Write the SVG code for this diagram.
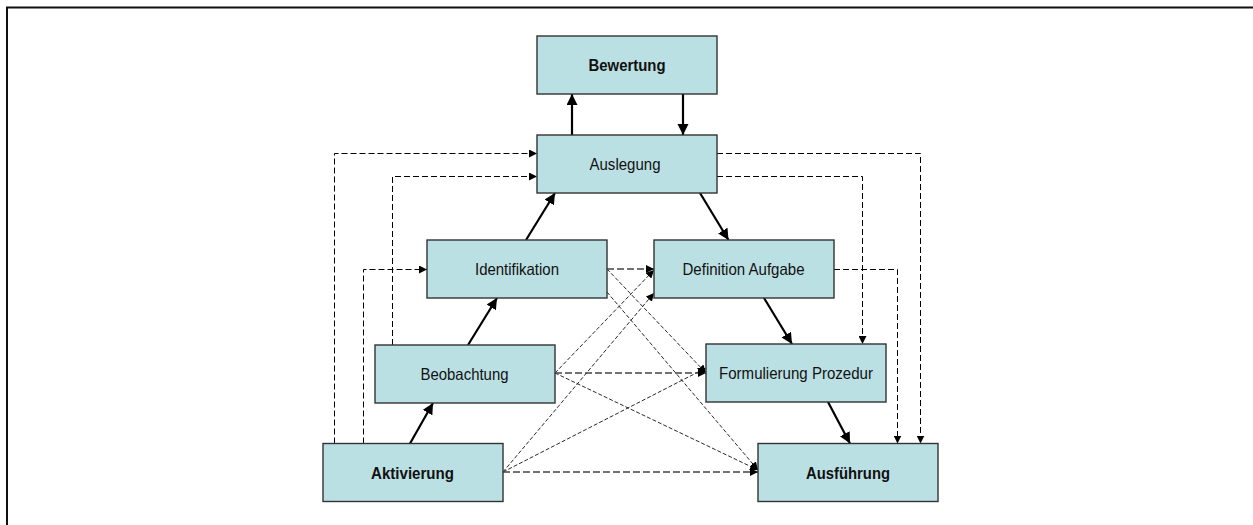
<svg xmlns="http://www.w3.org/2000/svg" width="1253" height="525" viewBox="0 0 1253 525">
  <style>
    .box { fill: #bbe0e3; stroke: #333; stroke-width: 1.4; }
    .lbl { font-family: "Liberation Sans", Arial, sans-serif; font-size: 16.5px; fill: #111; text-anchor: middle; }
    .bold { font-weight: bold; }
    .solid { fill: none; stroke: #000; stroke-width: 2.2; marker-end: url(#headBig); }
    .diag { fill: none; stroke: #111; stroke-width: 0.9; stroke-dasharray: 4 2; marker-end: url(#headSmall); }
    .horiz { fill: none; stroke: #444; stroke-width: 1.5; stroke-dasharray: 7 3; marker-end: url(#headSmall); }
    .loop { fill: none; stroke: #000; stroke-width: 1; stroke-dasharray: 6 3; marker-end: url(#headSmall); }
  </style>
  <defs>
    <marker id="headBig" markerUnits="userSpaceOnUse" markerWidth="12" markerHeight="12" refX="11" refY="5.5" orient="auto">
      <path d="M0,0 L11,5.5 L0,11 Z" fill="#000"/>
    </marker>
    <marker id="headSmall" markerUnits="userSpaceOnUse" markerWidth="9" markerHeight="8" refX="8" refY="4" orient="auto">
      <path d="M0,0 L8,4 L0,8 Z" fill="#000"/>
    </marker>
  </defs>

  <rect width="1253" height="525" fill="#fff"/>
  <!-- outer frame: top and left edges -->
  <path d="M7,525 V7.5 H1253" fill="none" stroke="#111" stroke-width="2"/>

  <g id="connectors">
    <!-- main chain -->
    <path class="solid" d="M572,135 V94"/>
    <path class="solid" d="M683,94 V135"/>
    <path class="solid" d="M526,240 L555,193"/>
    <path class="solid" d="M468,345 L497,298"/>
    <path class="solid" d="M410,443.5 L433,403"/>
    <path class="solid" d="M700,193 L728.5,240"/>
    <path class="solid" d="M764,298 L792,344"/>
    <path class="solid" d="M828,402 L850,443.5"/>

    <!-- cross links -->
    <path class="diag" d="M607,269 L706,373"/>
    <path class="diag" d="M607,292 L758,470"/>
    <path class="diag" d="M555,373 L654,270"/>
    <path class="diag" d="M555,373 L758,470"/>
    <path class="diag" d="M503,472 L654,293"/>
    <path class="diag" d="M503,472 L706,368"/>

    <path class="horiz" d="M607,269 H654"/>
    <path class="horiz" d="M555,373 H706"/>
    <path class="horiz" d="M503,472 H758"/>

    <!-- feedback loops -->
    <path class="loop" d="M334.5,443.5 V153.5 H537"/>
    <path class="loop" d="M363.5,443.5 V269.5 H427"/>
    <path class="loop" d="M392.5,345 V176.5 H537"/>
    <path class="loop" d="M717,153.5 H920.5 V443.5"/>
    <path class="loop" d="M717,176.5 H862.5 V344"/>
    <path class="loop" d="M834,269.5 H897.5 V443.5"/>
  </g>

  <g id="bewertung">
    <rect class="box" x="537" y="36" width="180" height="58"/>
    <text class="lbl bold" x="627" y="71" textLength="77" lengthAdjust="spacingAndGlyphs">Bewertung</text>
  </g>
  <g id="auslegung">
    <rect class="box" x="537" y="135" width="180" height="58"/>
    <text class="lbl" x="625" y="170" textLength="71" lengthAdjust="spacingAndGlyphs">Auslegung</text>
  </g>
  <g id="identifikation">
    <rect class="box" x="427" y="240" width="180" height="58"/>
    <text class="lbl" x="517" y="275" textLength="84" lengthAdjust="spacingAndGlyphs">Identifikation</text>
  </g>
  <g id="definition-aufgabe">
    <rect class="box" x="654" y="240" width="180" height="58"/>
    <text class="lbl" x="743.5" y="275" textLength="122" lengthAdjust="spacingAndGlyphs">Definition Aufgabe</text>
  </g>
  <g id="beobachtung">
    <rect class="box" x="375" y="345" width="180" height="58"/>
    <text class="lbl" x="464.5" y="380" textLength="88" lengthAdjust="spacingAndGlyphs">Beobachtung</text>
  </g>
  <g id="formulierung-prozedur">
    <rect class="box" x="706" y="344" width="180" height="58"/>
    <text class="lbl" x="796" y="379" textLength="154" lengthAdjust="spacingAndGlyphs">Formulierung Prozedur</text>
  </g>
  <g id="aktivierung">
    <rect class="box" x="323" y="443.5" width="180" height="58"/>
    <text class="lbl bold" x="412.5" y="478.5" textLength="83" lengthAdjust="spacingAndGlyphs">Aktivierung</text>
  </g>
  <g id="ausfuehrung">
    <rect class="box" x="758" y="443.5" width="180" height="58"/>
    <text class="lbl bold" x="848" y="478.5" textLength="84" lengthAdjust="spacingAndGlyphs">Ausführung</text>
  </g>
</svg>
